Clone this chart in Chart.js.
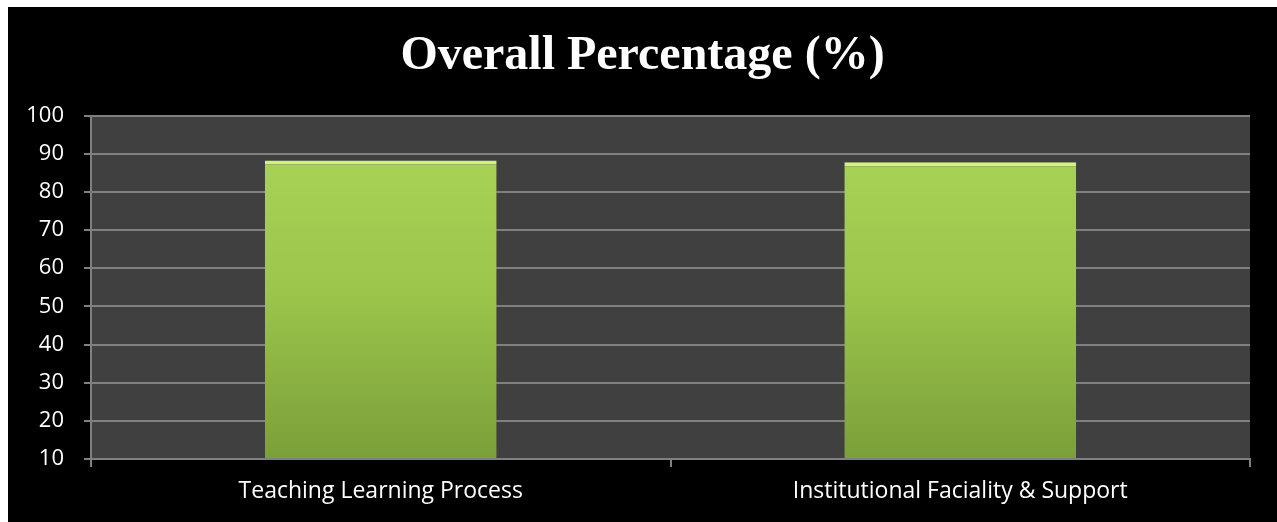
<!DOCTYPE html>
<html>
<head>
<meta charset="utf-8">
<script src="https://cdn.jsdelivr.net/npm/chart.js@4"></script>
<style>
    body { margin: 0; background: #ffffff; }
    .box {
        position: absolute;
        left: 8px;
        top: 7px;
        width: 1269px;
        height: 515px;
        background: #000000;
    }
</style>
</head>
<body>
<div class="box">
    <canvas id="myChart" width="1269" height="515"></canvas>
</div>
<script>
const categories = ['Teaching Learning Process', 'Institutional Faciality & Support'];
const percentages = [88.2, 87.8];
const yTicks = [10, 20, 30, 40, 50, 60, 70, 80, 90, 100];

const ctx = document.getElementById('myChart').getContext('2d');

// fundo cinza da área do gráfico
const plotBackground = {
    id: 'plotBackground',
    beforeDraw(chart) {
        const { ctx, chartArea } = chart;
        ctx.save();
        ctx.fillStyle = '#404040';
        ctx.fillRect(chartArea.left, chartArea.top, chartArea.right - chartArea.left, chartArea.bottom - chartArea.top);
        ctx.restore();
    }
};

// gradiente verde das barras
function barGradient(context) {
    const chart = context.chart;
    const area = chart.chartArea;
    if (!area) return '#9fc94f';
    const g = chart.ctx.createLinearGradient(0, area.top, 0, area.bottom);
    g.addColorStop(0, '#acd658');
    g.addColorStop(0.5, '#9cc64c');
    g.addColorStop(1, '#7b9f3a');
    return g;
}

new Chart(ctx, {
    type: 'bar',
    data: {
        labels: categories,
        datasets: [{
            label: 'Overall Percentage (%)',
            data: percentages,
            backgroundColor: barGradient,
            borderColor: '#d2f285',
            borderWidth: { top: 4, left: 0, right: 0, bottom: 0 },
            barPercentage: 0.4,
            categoryPercentage: 1.0,
            base: 10
        }]
    },
    plugins: [plotBackground],
    options: {
        responsive: false,
        animation: false,
        plugins: {
            legend: { display: false },
            tooltip: { enabled: false },
            title: {
                display: true,
                text: 'Overall Percentage (%)',
                color: '#ffffff',
                font: { family: 'Liberation Serif', size: 48, weight: 'bold' },
                padding: { top: 21, bottom: 30 }
            }
        },
        scales: {
            x: {
                grid: {
                    display: true,
                    drawOnChartArea: false,
                    drawTicks: true,
                    tickLength: 8,
                    color: '#808080',
                    lineWidth: 2
                },
                border: { display: true, color: '#808080', width: 2 },
                ticks: {
                    color: '#ffffff',
                    font: { family: 'Open Sans', size: 23 },
                    padding: 11
                },
                afterFit: (scale) => { scale.height = 63; }
            },
            y: {
                min: 10,
                max: 100,
                afterBuildTicks: (scale) => {
                    scale.ticks = yTicks.map(v => ({ value: v }));
                },
                grid: {
                    color: '#808080',
                    lineWidth: 2,
                    tickLength: 7
                },
                border: { display: true, color: '#808080', width: 2 },
                ticks: {
                    color: '#ffffff',
                    font: { family: 'Open Sans', size: 22 },
                    padding: 20
                },
                afterFit: (scale) => { scale.width = 83; }
            },
            // eixo vazio à direita só para reservar a margem
            yRight: {
                position: 'right',
                min: 10,
                max: 100,
                grid: { display: false },
                border: { display: false },
                ticks: { display: false },
                afterFit: (scale) => { scale.width = 27; }
            }
        }
    }
});
</script>
</body>
</html>
